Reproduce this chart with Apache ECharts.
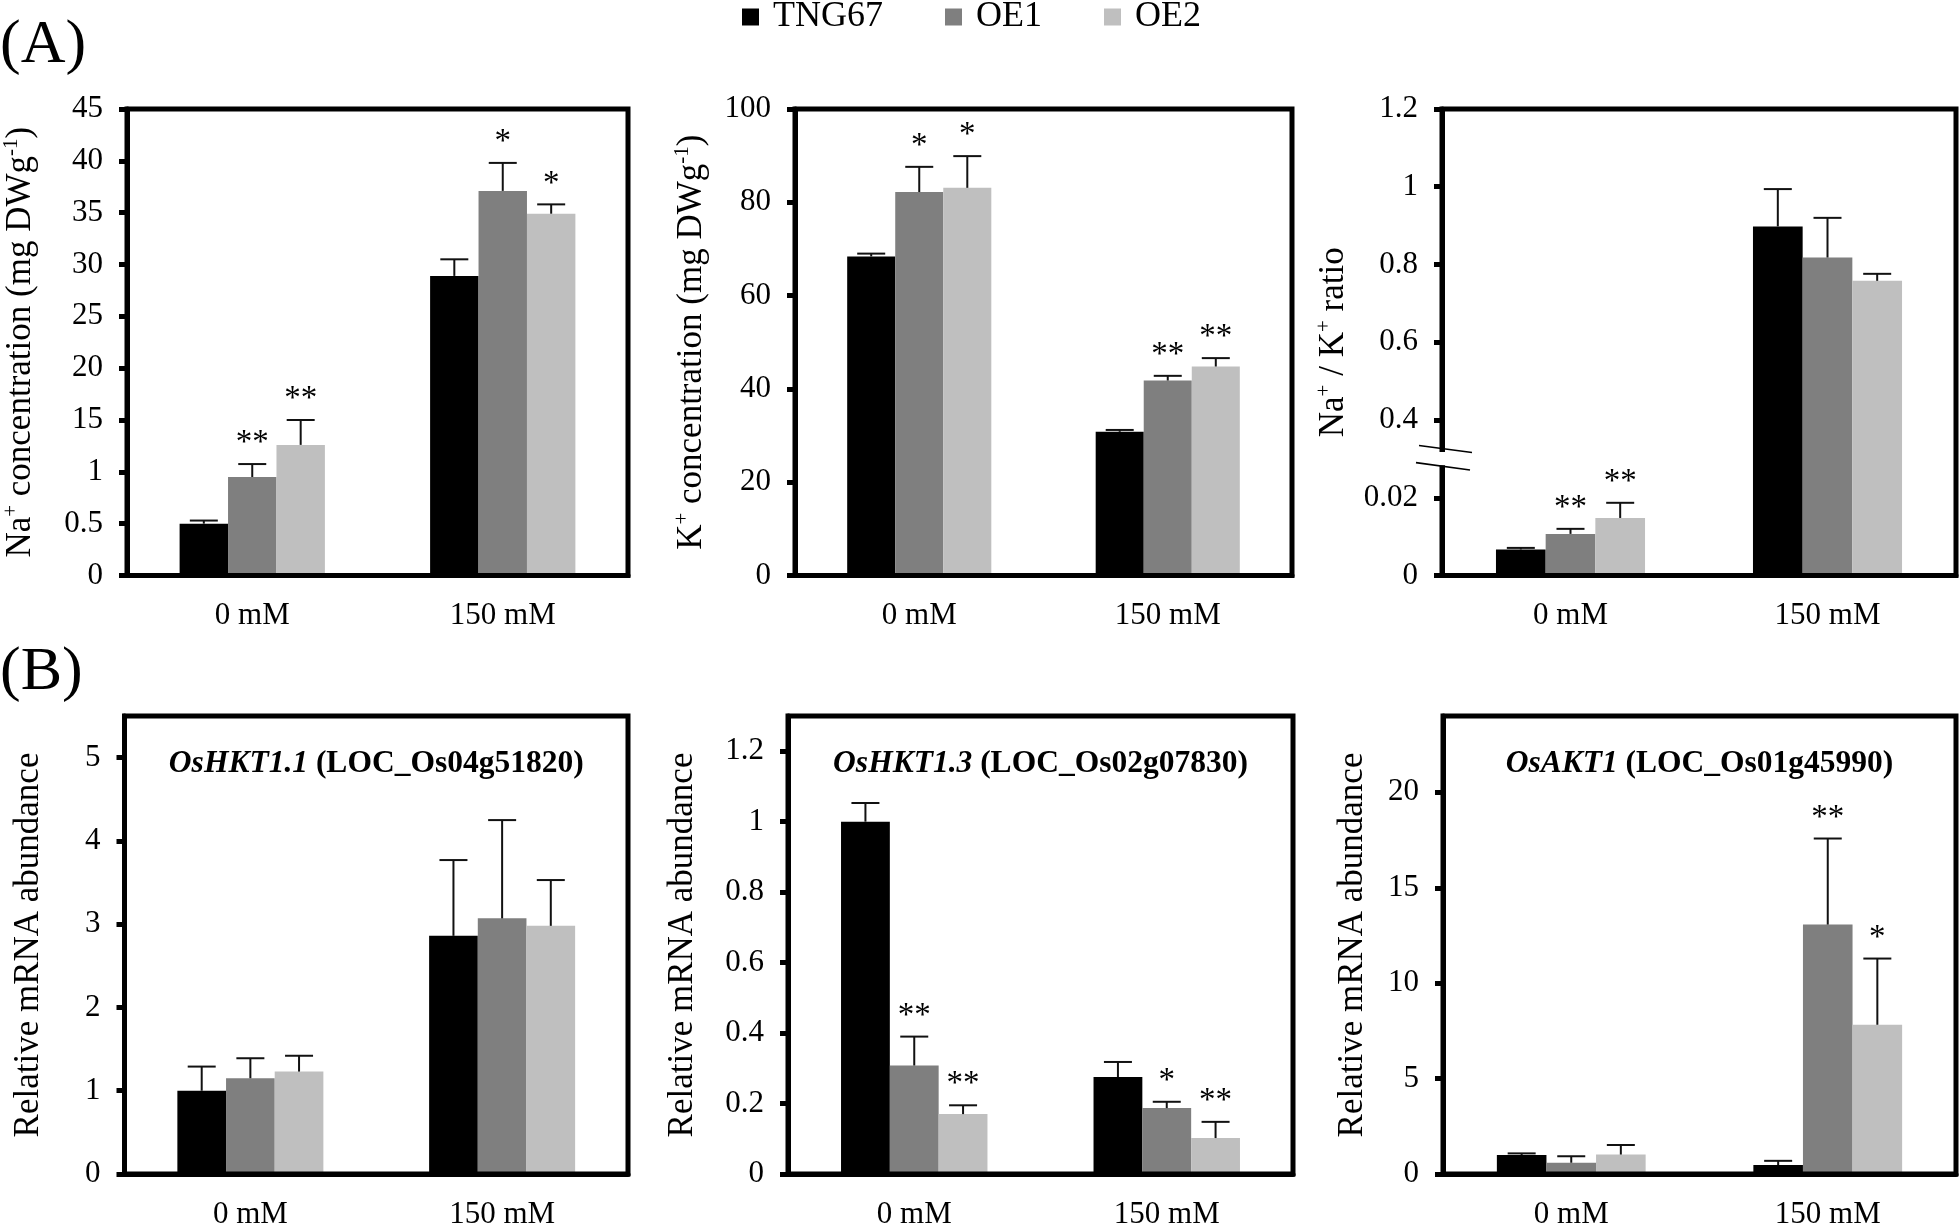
<!DOCTYPE html>
<html><head><meta charset="utf-8">
<script src="https://cdn.jsdelivr.net/npm/echarts@6/dist/echarts.min.js"></script>
<style>html,body{margin:0;padding:0;background:#fff}#c{width:1959px;height:1230px}</style>
</head><body><div id="c"></div>
<script>
// ---------------- DATA ----------------
const categories = ['0 mM', '150 mM'];
const lines = ['TNG67', 'OE1', 'OE2'];
// rows: TNG67, OE1, OE2 ; columns: 0 mM, 150 mM
const naMean = [[0.50, 28.9], [0.95, 37.1], [1.26, 34.9]];
const naErr  = [[0.03, 1.6], [0.125, 2.7], [0.24, 0.9]];
const naSig  = [['', ''], ['**', '*'], ['**', '*']];
const naTicks = [0, 0.5, 1, 15, 20, 25, 30, 35, 40, 45];

const kMean = [[68.4, 30.8], [82.2, 41.8], [83.1, 44.8]];
const kErr  = [[0.6, 0.4], [5.4, 1.0], [6.8, 1.8]];
const kSig  = [['', ''], ['*', '**'], ['*', '**']];
const kTicks = [0, 20, 40, 60, 80, 100];

const ratioMean = [[0.0067, 0.898], [0.0107, 0.818], [0.0148, 0.758]];
const ratioErr  = [[0.0004, 0.096], [0.0013, 0.102], [0.0039, 0.018]];
const ratioSig  = [['', ''], ['**', ''], ['**', '']];
const ratioTicks = [0, 0.02, 0.4, 0.6, 0.8, 1, 1.2];

const hkt11Mean = [[1.00, 2.86], [1.15, 3.07], [1.23, 2.98]];
const hkt11Err  = [[0.29, 0.91], [0.24, 1.18], [0.19, 0.55]];
const hkt11Sig  = [['', ''], ['', ''], ['', '']];
const hkt11Ticks = [0, 1, 2, 3, 4, 5];

const hkt13Mean = [[1.00, 0.275], [0.308, 0.187], [0.17, 0.102]];
const hkt13Err  = [[0.053, 0.043], [0.082, 0.018], [0.025, 0.046]];
const hkt13Sig  = [['', ''], ['**', '*'], ['**', '**']];
const hkt13Ticks = [0, 0.2, 0.4, 0.6, 0.8, 1, 1.2];

const akt1Mean = [[0.99, 0.47], [0.59, 13.07], [1.02, 7.82]];
const akt1Err  = [[0.09, 0.22], [0.34, 4.51], [0.50, 3.47]];
const akt1Sig  = [['', ''], ['', '**'], ['', '*']];
const akt1Ticks = [0, 5, 10, 15, 20];

const geneNames = ['OsHKT1.1', 'OsHKT1.3', 'OsAKT1'];
const geneLoci = ['(LOC_Os04g51820)', '(LOC_Os02g07830)', '(LOC_Os01g45990)'];
const panelLetters = ['(A)', '(B)'];

// broken-axis scales (value -> axis position)
const naPos = v => v <= 1.5 ? v * 2 : v / 5;
const ratioPos = v => v <= 0.02 ? v / 0.02 : v / 0.2;
const linPos = v => v;

// ---------------- STYLE / LAYOUT ----------------
const FONT = 'Liberation Serif';
const colors = ['#000000', '#7f7f7f', '#bfbfbf'];
const GAP = 0.42;

const panels = [
  {mean: naMean, err: naErr, sig: naSig, ticks: naTicks, pos: naPos, top: 45,
   name: 'Na{sup|+} concentration (mg DWg{sup|-1})'},
  {mean: kMean, err: kErr, sig: kSig, ticks: kTicks, pos: linPos, top: 100,
   name: 'K{sup|+} concentration (mg DWg{sup|-1})'},
  {mean: ratioMean, err: ratioErr, sig: ratioSig, ticks: ratioTicks, pos: ratioPos, top: 1.2,
   name: 'Na{sup|+} / K{sup|+} ratio'},
  {mean: hkt11Mean, err: hkt11Err, sig: hkt11Sig, ticks: hkt11Ticks, pos: linPos, top: 5.5,
   name: 'Relative mRNA abundance'},
  {mean: hkt13Mean, err: hkt13Err, sig: hkt13Sig, ticks: hkt13Ticks, pos: linPos, top: 1.3,
   name: 'Relative mRNA abundance'},
  {mean: akt1Mean, err: akt1Err, sig: akt1Sig, ticks: akt1Ticks, pos: linPos, top: 24,
   name: 'Relative mRNA abundance'}
];

const layout = [
  {left: 124.5, right: 628, top: 109, bottom: 575.5, nameGap: 86},
  {left: 795, right: 1292, top: 109, bottom: 575.5, nameGap: 83},
  {left: 1442, right: 1956, top: 109, bottom: 575.5, nameGap: 88},
  {left: 124.5, right: 628, top: 716, bottom: 1182, nameGap: 76},
  {left: 788, right: 1293, top: 716, bottom: 1182, nameGap: 85},
  {left: 1443, right: 1956, top: 716, bottom: 1182, nameGap: 70}
];

const chart = echarts.init(document.getElementById('c'), null, {renderer: 'canvas'});

const grids = [], xAxes = [], yAxes = [], series = [];
panels.forEach((cfg, p) => {
  const L = layout[p];
  grids.push({left: L.left, top: L.top, width: L.right - L.left, height: L.bottom - L.top,
    show: true, borderColor: '#000', borderWidth: 5, z: 6});
  xAxes.push({type: 'category', gridIndex: p, data: categories, z: 6,
    axisLine: {lineStyle: {color: '#000', width: 5}},
    axisTick: {show: false},
    axisLabel: {color: '#000', fontFamily: FONT, fontSize: 31, margin: 25}});
  const tickPos = cfg.ticks.map(cfg.pos);
  yAxes.push({type: 'value', gridIndex: p, min: 0, max: cfg.pos(cfg.top), z: 6,
    axisLine: {show: true, lineStyle: {color: '#000', width: 5}},
    axisTick: {show: true, length: 8, lineStyle: {color: '#000', width: 5}, customValues: tickPos},
    splitLine: {show: false},
    axisLabel: {customValues: tickPos, color: '#000', fontFamily: FONT, fontSize: 31, margin: 24,
      formatter: v => {
        const i = cfg.ticks.findIndex(t => Math.abs(cfg.pos(t) - v) < 1e-9);
        return i >= 0 ? String(cfg.ticks[i]) : '';
      }},
    name: cfg.name, nameLocation: 'middle', nameRotate: 90, nameGap: L.nameGap,
    nameTextStyle: {color: '#000', fontFamily: FONT, fontSize: 35, lineHeight: 40,
      rich: {sup: {fontFamily: FONT, fontSize: 21, verticalAlign: 'top', color: '#000'}}}});
  for (let s = 0; s < 3; s++) {
    series.push({type: 'bar', name: lines[s], xAxisIndex: p, yAxisIndex: p, silent: true,
      data: cfg.mean[s].map(cfg.pos), itemStyle: {color: colors[s]},
      barGap: '0%', barCategoryGap: (GAP * 100) + '%', z: 2});
  }
  const edata = [];
  for (let s = 0; s < 3; s++) for (let c = 0; c < 2; c++)
    edata.push([c, s, cfg.pos(cfg.mean[s][c]), cfg.pos(cfg.mean[s][c] + cfg.err[s][c])]);
  series.push({type: 'custom', xAxisIndex: p, yAxisIndex: p, z: 4, silent: true,
    encode: {x: 0, y: [2, 3]}, data: edata,
    renderItem: (params, api) => {
      const c = api.value(0), s = api.value(1);
      const base = api.coord([c, api.value(2)]);
      const topP = api.coord([c, api.value(3)]);
      const band = api.size([1, 0])[0];
      const bw = band * (1 - GAP) / 3;
      const x = base[0] + (s - 1) * bw;
      const children = [
        {type: 'line', shape: {x1: x, y1: base[1], x2: x, y2: topP[1]}, style: {stroke: '#111', lineWidth: 2}},
        {type: 'line', shape: {x1: x - 14, y1: topP[1], x2: x + 14, y2: topP[1]}, style: {stroke: '#111', lineWidth: 2}}
      ];
      const star = cfg.sig[s][c];
      if (star) children.push({type: 'text', x: x, y: topP[1] - 4,
        style: {text: star, fill: '#000', font: '33px "' + FONT + '"', align: 'center', verticalAlign: 'bottom'}});
      return {type: 'group', children};
    }});
});

chart.setOption({
  animation: false,
  backgroundColor: '#fff',
  legend: {data: lines, left: 737, top: -6, icon: 'rect', itemWidth: 17, itemHeight: 17, itemGap: 62,
    formatter: n => ' ' + n, selectedMode: false,
    textStyle: {color: '#000', fontFamily: FONT, fontSize: 36}},
  grid: grids, xAxis: xAxes, yAxis: yAxes, series: series
});

// ---------------- DECORATION ----------------
const graphics = [];
graphics.push({type: 'text', x: 0, y: 46, z: 10,
  style: {text: panelLetters[0], fill: '#000', font: '62px "' + FONT + '"', align: 'left', verticalAlign: 'middle'}});
graphics.push({type: 'text', x: 0, y: 673, z: 10,
  style: {text: panelLetters[1], fill: '#000', font: '62px "' + FONT + '"', align: 'left', verticalAlign: 'middle'}});
for (let g = 0; g < 3; g++) {
  const L = layout[3 + g];
  graphics.push({type: 'text', x: (L.left + L.right) / 2, y: L.top + 48, z: 10,
    style: {text: '{i|' + geneNames[g] + '} ' + geneLoci[g], fill: '#000',
      fontFamily: FONT, fontSize: 31.5, fontWeight: 'bold', align: 'center', verticalAlign: 'middle',
      rich: {i: {fontFamily: FONT, fontSize: 31.5, fontWeight: 'bold', fontStyle: 'italic', fill: '#000'}}}});
}
// axis-break marks on the Na+/K+ ratio panel
const ax = layout[2].left;
const yU = chart.convertToPixel({yAxisIndex: 2}, 1.627);
const yL = chart.convertToPixel({yAxisIndex: 2}, 1.405);
graphics.push({type: 'rect', z: 20, shape: {x: ax - 4, y: yU + 3, width: 8, height: yL - yU - 4}, style: {fill: '#fff'}});
graphics.push({type: 'line', z: 21, shape: {x1: ax - 23, y1: yU - 3.5, x2: ax + 30, y2: yU + 3.5}, style: {stroke: '#000', lineWidth: 1.6}});
graphics.push({type: 'line', z: 21, shape: {x1: ax - 26, y1: yL - 3.6, x2: ax + 28, y2: yL + 3.7}, style: {stroke: '#000', lineWidth: 1.6}});
chart.setOption({graphic: graphics});
</script>
</body></html>
